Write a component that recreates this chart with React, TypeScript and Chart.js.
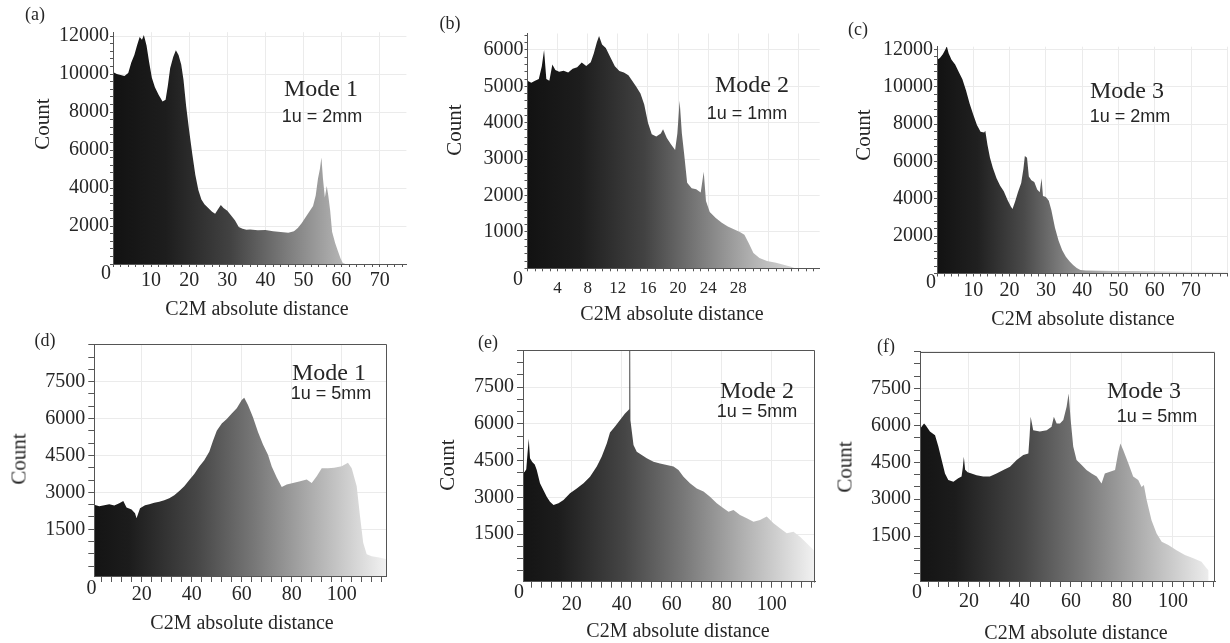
import React, { useEffect, useRef } from 'react';
import { Chart, registerables } from 'chart.js';

Chart.register(...registerables);

// ---------------- data ----------------
// (a) Mode 1, 1u = 2mm
const aDist = [0, 1, 2, 3, 4, 4.8, 5.6, 6.3, 7, 7.6, 8.1, 8.8, 9.5, 10.2, 11, 12, 13, 13.8, 14.4, 15, 15.8, 16.5, 17.2, 17.9, 18.5, 19.2, 20, 20.8, 21.6, 22.4, 23.2, 24, 25, 26, 26.8, 27.6, 28.3, 29, 30, 31, 32, 33, 34, 35, 36, 38, 40, 42, 44, 46, 47.5, 48.5, 49.5, 50.5, 51.5, 52.5, 53.2, 53.8, 54.3, 54.7, 55.1, 55.6, 56.1, 56.5, 57, 57.5, 58.3, 59, 59.7, 60.3, 61];
const aCount = [10100, 10000, 9950, 9900, 10050, 10600, 11000, 11500, 11950, 11800, 12050, 11500, 10600, 9800, 9300, 8900, 8550, 8650, 9400, 10300, 10900, 11250, 11000, 10500, 9700, 8300, 7000, 5800, 4700, 3900, 3400, 3150, 2950, 2750, 2650, 2900, 3100, 2950, 2800, 2550, 2300, 1950, 1850, 1800, 1820, 1780, 1790, 1720, 1680, 1650, 1720, 1900, 2150, 2450, 2750, 3050, 3600, 4500, 5000, 5600, 4500, 3500, 4100, 3600, 2800, 1700, 1100, 700, 300, 50, 0];
const aXLabels = [10, 20, 30, 40, 50, 60, 70];
const aYLabels = [2000, 4000, 6000, 8000, 10000, 12000];

// (b) Mode 2, 1u = 1mm
const bDist = [0, 0.5, 1, 1.5, 1.9, 2.2, 2.5, 2.9, 3.3, 3.7, 4.2, 4.8, 5.4, 6, 6.6, 7.2, 7.8, 8.4, 8.8, 9.2, 9.5, 9.9, 10.4, 11, 11.6, 12.2, 12.8, 13.4, 13.9, 14.4, 15, 15.5, 16, 16.5, 17.1, 17.7, 18, 18.5, 19, 19.6, 19.9, 20.2, 20.5, 20.8, 21.2, 21.8, 22.4, 23, 23.4, 23.7, 24.2, 25, 25.8, 26.6, 27.4, 28.2, 28.8, 29.4, 30, 30.8, 31.8, 33, 34, 35, 35.5];
const bCount = [5150, 5100, 5150, 5200, 5550, 6000, 5200, 5150, 5600, 5450, 5400, 5430, 5380, 5480, 5520, 5650, 5560, 5660, 5900, 6200, 6380, 6150, 6050, 5800, 5550, 5420, 5380, 5300, 5150, 5000, 4800, 4500, 4000, 3680, 3620, 3700, 3820, 3580, 3420, 3250, 3700, 4600, 3700, 3150, 2350, 2200, 2170, 2080, 2650, 1850, 1550, 1380, 1250, 1150, 1070, 1000, 920, 680, 420, 280, 200, 150, 100, 40, 0];
const bXLabels = [4, 8, 12, 16, 20, 24, 28];
const bYLabels = [1000, 2000, 3000, 4000, 5000, 6000];

// (c) Mode 3, 1u = 2mm
const cDist = [0, 0.8, 1.6, 2.3, 2.7, 3.2, 4, 5, 6, 7, 8, 9, 10, 11, 12, 13, 13.3, 13.9, 14.6, 15.4, 16.4, 17.4, 18.4, 19.4, 20.3, 20.8, 21.5, 22.3, 23.2, 23.8, 24.2, 24.8, 25.3, 26, 26.8, 27.6, 28.3, 28.8, 29.2, 30, 30.8, 31.5, 32.5, 33.5, 34.5, 35.5, 36.5, 37.5, 38.5, 39.5, 41, 45, 50, 55, 60, 65, 70, 75, 80];
const cCount = [11450, 11550, 11750, 12000, 12170, 11800, 11450, 11200, 10800, 10400, 9800, 9100, 8500, 7950, 7600, 7550, 7650, 6900, 6200, 5650, 5100, 4700, 4400, 3950, 3600, 3450, 3850, 4350, 4850, 5600, 6300, 6200, 5200, 5000, 4900, 4500, 4350, 5100, 4150, 4100, 3900, 3400, 2450, 1750, 1250, 900, 650, 450, 300, 190, 160, 150, 140, 130, 120, 110, 100, 100, 90];
const cXLabels = [10, 20, 30, 40, 50, 60, 70];
const cYLabels = [2000, 4000, 6000, 8000, 10000, 12000];

// (d) Mode 1, 1u = 5mm
const dDist = [1, 3, 5, 7, 9, 11, 12.6, 13.9, 15.9, 17.3, 17.9, 19.3, 21.3, 23, 25, 27, 29, 31, 33, 35, 37, 39, 41, 43, 45, 47, 48.5, 50, 52, 54, 56, 58, 60, 61, 62.5, 64.5, 66.5, 68.5, 70.5, 72, 74, 76, 78, 80.5, 83, 86, 88, 90, 92, 94.5, 97, 100, 102.5, 104, 106, 107.3, 108.6, 110, 112, 115, 118];
const dCount = [2500, 2440, 2480, 2520, 2470, 2560, 2650, 2380, 2300, 2150, 1950, 2350, 2480, 2520, 2580, 2620, 2680, 2760, 2880, 3050, 3250, 3500, 3750, 4050, 4300, 4650, 5100, 5500, 5800, 5980, 6200, 6420, 6750, 6850, 6550, 6050, 5450, 4950, 4530, 4050, 3600, 3220, 3320, 3380, 3440, 3520, 3380, 3650, 3980, 3980, 4000, 4060, 4200, 3980, 3250, 2050, 950, 480, 400, 350, 280];

// (e) Mode 2, 1u = 5mm
const eDist = [0.5, 1.2, 1.8, 2.3, 2.8, 3.3, 4.2, 5.2, 6, 7.3, 8.7, 10, 11.3, 12.7, 14.7, 16.7, 19.3, 22, 24.7, 27.3, 30, 32, 34, 35.3, 37.3, 39.3, 41.3, 42.7, 42.95, 43, 43.3, 43.35, 43.6, 44.7, 46, 48, 50, 52.7, 55.3, 58, 60.7, 62.7, 64.7, 67.3, 70, 72.7, 75.3, 78, 80.7, 82.7, 84.7, 87.3, 90, 92.7, 95.3, 98, 100.7, 103.3, 106, 108.7, 111.3, 114, 116.7, 117.3];
const eCount = [4000, 4050, 4150, 4800, 5400, 4600, 4450, 4350, 4120, 3580, 3300, 3030, 2830, 2690, 2760, 2900, 3170, 3370, 3580, 3850, 4260, 4670, 5200, 5650, 5900, 6160, 6430, 6570, 6600, 12000, 12000, 6300, 6150, 5140, 4870, 4730, 4600, 4460, 4390, 4330, 4260, 4120, 3850, 3580, 3370, 3240, 3030, 2760, 2560, 2420, 2490, 2290, 2150, 2010, 2080, 2220, 1950, 1740, 1540, 1600, 1400, 1130, 860, 800];

// (f) Mode 3, 1u = 5mm
const fDist = [0.8, 1.4, 2.4, 3.1, 4.7, 6.7, 8, 9.3, 10.6, 11.9, 13.9, 15.8, 17.1, 17.6, 18, 18.5, 19.5, 21, 23, 25.6, 28.2, 30.8, 33.5, 36.1, 38.7, 41.3, 43.3, 43.8, 44.2, 45.2, 47.8, 50.5, 52.4, 53.3, 54.4, 55.7, 57, 58.3, 59.1, 59.9, 60.9, 62.2, 64.2, 66.1, 68.1, 70.1, 72, 73.3, 75.3, 77.3, 78.6, 79.4, 80.5, 82.5, 84.4, 86.4, 87.7, 88.6, 89.7, 91.6, 93.6, 95.6, 98.2, 101.4, 104.7, 108, 111.2, 113.2, 114];
const fCount = [5850, 5950, 6080, 6000, 5750, 5600, 5140, 4600, 4050, 3780, 3710, 3850, 3920, 4300, 4730, 4200, 4100, 4050, 3980, 3920, 3920, 4050, 4190, 4320, 4600, 4800, 4860, 5600, 6350, 5810, 5750, 5810, 5950, 6350, 6080, 6080, 6220, 6760, 7300, 6220, 5140, 4600, 4390, 4190, 4050, 3920, 3640, 4050, 4120, 4190, 4930, 5270, 5000, 4460, 3920, 3780, 3500, 3580, 2970, 2150, 1610, 1270, 1140, 930, 730, 600, 460, 190, 100];

const bottomXLabels = [20, 40, 60, 80, 100];
const bottomYLabels = [1500, 3000, 4500, 6000, 7500];

const panelLetters = ['(a)', '(b)', '(c)', '(d)', '(e)', '(f)'];
const modeNames = ['Mode 1', 'Mode 2', 'Mode 3', 'Mode 1', 'Mode 2', 'Mode 3'];
const unitNotes = ['1u = 2mm', '1u = 1mm', '1u = 2mm', '1u = 5mm', '1u = 5mm', '1u = 5mm'];
const X_TITLE = 'C2M absolute distance';
const Y_TITLE = 'Count';

// ---------------- styling / layout ----------------
const SERIF = "'Liberation Serif', 'Times New Roman', serif";
const SANS = "'Liberation Sans', Arial, sans-serif";
const TEXT = '#262626';
const AXIS = '#555555';
const GRID = '#ebebeb';

type Stop = [number, string];
const stopsTop: Stop[] = [[0, '#121212'], [0.18, '#1d1d1d'], [0.4, '#424242'], [0.6, '#7e7e7e'], [0.78, '#b4b4b4'], [1, '#ececec']];
const stopsC: Stop[] = [[0, '#121212'], [0.14, '#202020'], [0.3, '#4a4a4a'], [0.45, '#858585'], [0.6, '#b8b8b8'], [1, '#f0f0f0']];
const stopsBottom: Stop[] = [[0, '#141414'], [0.12, '#1c1c1c'], [0.35, '#464646'], [0.55, '#787878'], [0.75, '#afafaf'], [1, '#f2f2f2']];

type Txt = { s: string; x: number; y: number; size: number; sans?: boolean; rot?: boolean };
type Cfg = {
  id: string;
  xs: number[]; ys: number[];
  xMin: number; xMax: number; yMin: number; yMax: number;
  xStep: number; yStep: number; xGrid: number; yGrid: number;
  xLabels: number[]; yLabels: number[];
  plot: { l: number; t: number; r: number; b: number };
  xFont: number; yFont: number; xTickLen: number; xPad: number; yTickLen: number; yPad: number;
  frame: boolean; stops: Stop[]; texts: Txt[];
};

function texts(i: number, letter: [number, number], count: [number, number], xt: [number, number], mode: [number, number], unit: [number, number], zero: [number, number]): Txt[] {
  return [
    { s: panelLetters[i], x: letter[0], y: letter[1], size: 18 },
    { s: Y_TITLE, x: count[0], y: count[1], size: 21, rot: true },
    { s: X_TITLE, x: xt[0], y: xt[1], size: 20 },
    { s: modeNames[i], x: mode[0], y: mode[1], size: 24 },
    { s: unitNotes[i], x: unit[0], y: unit[1], size: 18, sans: true },
    { s: '0', x: zero[0], y: zero[1], size: 20 },
  ];
}

const panels: Cfg[] = [
  {
    id: 'a', xs: aDist, ys: aCount, xMin: 0, xMax: 77, yMin: 0, yMax: 12200,
    xStep: 2, yStep: 400, xGrid: 10, yGrid: 2000, xLabels: aXLabels, yLabels: aYLabels,
    plot: { l: 113, t: 32.2, r: 406.4, b: 264 },
    xFont: 20, yFont: 20, xTickLen: 3, xPad: 2, yTickLen: 3, yPad: 1,
    frame: false, stops: stopsTop,
    texts: texts(0, [35, 14], [42, 124], [257, 308], [321, 88], [322, 116], [106, 272]),
  },
  {
    id: 'b', xs: bDist, ys: bCount, xMin: 0, xMax: 38.8, yMin: 0, yMax: 6450,
    xStep: 1, yStep: 200, xGrid: 4, yGrid: 1000, xLabels: bXLabels, yLabels: bYLabels,
    plot: { l: 527.5, t: 33.5, r: 819.7, b: 268.3 },
    xFont: 17, yFont: 20, xTickLen: 3, xPad: 7, yTickLen: 3, yPad: 1,
    frame: false, stops: stopsTop,
    texts: texts(1, [450, 23], [454, 130], [672, 313], [752, 84], [747, 113], [518, 278]),
  },
  {
    id: 'c', xs: cDist, ys: cCount, xMin: 0, xMax: 80, yMin: 0, yMax: 12150,
    xStep: 2, yStep: 400, xGrid: 10, yGrid: 2000, xLabels: cXLabels, yLabels: cYLabels,
    plot: { l: 937, t: 46.7, r: 1227.4, b: 273.5 },
    xFont: 20, yFont: 20, xTickLen: 3, xPad: 2, yTickLen: 3, yPad: 1,
    frame: false, stops: stopsC,
    texts: texts(2, [858, 29], [863, 135], [1083, 318], [1127, 90], [1130, 116], [931, 281]),
  },
  {
    id: 'd', xs: dDist, ys: dCount, xMin: 1, xMax: 118, yMin: -400, yMax: 9030,
    xStep: 4, yStep: 500, xGrid: 20, yGrid: 1500, xLabels: bottomXLabels, yLabels: bottomYLabels,
    plot: { l: 94.3, t: 344, r: 386.7, b: 576 },
    xFont: 20, yFont: 20, xTickLen: 6, xPad: 1, yTickLen: 6, yPad: 3,
    frame: true, stops: stopsBottom,
    texts: texts(3, [45, 340], [19, 459], [242, 622], [329, 372], [331, 393], [91.5, 587]),
  },
  {
    id: 'e', xs: eDist, ys: eCount, xMin: 0.5, xMax: 117.3, yMin: -437, yMax: 9020,
    xStep: 4, yStep: 500, xGrid: 20, yGrid: 1500, xLabels: bottomXLabels, yLabels: bottomYLabels,
    plot: { l: 523, t: 350, r: 815, b: 581.7 },
    xFont: 20, yFont: 20, xTickLen: 6, xPad: 5, yTickLen: 6, yPad: 3,
    frame: true, stops: stopsBottom,
    texts: texts(4, [488, 342], [447, 465], [678, 630], [757, 390], [757, 411], [519, 591]),
  },
  {
    id: 'f', xs: fDist, ys: fCount, xMin: 0.8, xMax: 116.5, yMin: -325, yMax: 9000,
    xStep: 4, yStep: 500, xGrid: 20, yGrid: 1500, xLabels: bottomXLabels, yLabels: bottomYLabels,
    plot: { l: 920, t: 351.7, r: 1215, b: 581 },
    xFont: 20, yFont: 20, xTickLen: 6, xPad: 3, yTickLen: 6, yPad: 3,
    frame: true, stops: stopsBottom,
    texts: texts(5, [886, 346], [845, 467], [1076, 632], [1144, 390], [1157, 416], [917, 591]),
  },
];

function ticksEvery(min: number, max: number, step: number): number[] {
  const out: number[] = [];
  for (let k = Math.ceil(min / step); k * step <= max + 1e-9; k++) out.push(k * step);
  return out;
}

const framePlugin = {
  id: 'frame',
  afterDraw(chart: any, _args: any, opts: any) {
    if (!opts || !opts.show) return;
    const { ctx, chartArea: a } = chart;
    const l = Math.round(a.left) + 0.5, t = Math.round(a.top) + 0.5;
    const r = Math.round(a.right) - 0.5, b = Math.round(a.bottom) + 0.5;
    ctx.save();
    ctx.strokeStyle = AXIS;
    ctx.lineWidth = 1;
    ctx.beginPath();
    ctx.moveTo(l, t);
    ctx.lineTo(r, t);
    ctx.lineTo(r, b);
    ctx.stroke();
    ctx.restore();
  },
};

function Panel({ cfg }: { cfg: Cfg }) {
  const ref = useRef<HTMLCanvasElement>(null);
  const L = 80, T = 18, R = 30, B = 45;
  const cl = Math.floor(cfg.plot.l - L);
  const ct = Math.floor(cfg.plot.t - T);
  const cr = Math.ceil(cfg.plot.r + R);
  const cb = Math.ceil(cfg.plot.b + B);
  const cw = cr - cl, ch = cb - ct;

  useEffect(() => {
    const canvas = ref.current;
    if (!canvas) return;
    const yW = cfg.plot.l - cl;
    const xH = cb - cfg.plot.b;
    const xTicks = ticksEvery(cfg.xMin, cfg.xMax, cfg.xStep);
    const yTicks = ticksEvery(cfg.yMin, cfg.yMax, cfg.yStep);
    const fillFn = (c: any) => {
      const chart = c.chart;
      const a = chart.chartArea;
      if (!a) return cfg.stops[0][1];
      const g = chart.ctx.createLinearGradient(a.left, 0, a.right, 0);
      cfg.stops.forEach(([o, col]) => g.addColorStop(o, col));
      return g;
    };
    const chart = new Chart(canvas, {
      type: 'line',
      data: {
        datasets: [{
          data: cfg.xs.map((x, i) => ({ x, y: cfg.ys[i] })),
          fill: 'start',
          backgroundColor: fillFn,
          borderWidth: 0,
          pointRadius: 0,
          tension: 0,
        }],
      },
      options: {
        animation: false,
        responsive: false,
        maintainAspectRatio: false,
        events: [],
        layout: { autoPadding: false, padding: { left: 0, top: cfg.plot.t - ct, right: cr - cfg.plot.r, bottom: 0 } },
        plugins: { legend: { display: false }, tooltip: { enabled: false }, frame: { show: cfg.frame } } as any,
        scales: {
          x: {
            type: 'linear', min: cfg.xMin, max: cfg.xMax,
            afterFit: (s: any) => { s.height = xH; },
            afterBuildTicks: (s: any) => { s.ticks = xTicks.map((v) => ({ value: v })); },
            ticks: {
              autoSkip: false, maxRotation: 0, minRotation: 0, padding: cfg.xPad, color: TEXT,
              font: { family: SERIF, size: cfg.xFont },
              callback: (v: any) => (cfg.xLabels.includes(Number(v)) ? String(v) : ''),
            },
            grid: {
              color: (c: any) => (c.tick && Math.abs(c.tick.value % cfg.xGrid) < 1e-9 && c.tick.value > cfg.xMin ? GRID : 'rgba(0,0,0,0)'),
              tickColor: AXIS, tickLength: cfg.xTickLen, lineWidth: 1,
            },
            border: { display: true, color: AXIS, width: 1, z: 1 },
          },
          y: {
            type: 'linear', min: cfg.yMin, max: cfg.yMax,
            afterFit: (s: any) => { s.width = yW; },
            afterBuildTicks: (s: any) => { s.ticks = yTicks.map((v) => ({ value: v })); },
            ticks: {
              autoSkip: false, padding: cfg.yPad, color: TEXT,
              font: { family: SERIF, size: cfg.yFont },
              callback: (v: any) => (cfg.yLabels.includes(Number(v)) ? String(v) : ''),
            },
            grid: {
              color: (c: any) => (c.tick && Math.abs(c.tick.value % cfg.yGrid) < 1e-9 && c.tick.value > 0 ? GRID : 'rgba(0,0,0,0)'),
              tickColor: AXIS, tickLength: cfg.yTickLen, lineWidth: 1,
            },
            border: { display: true, color: AXIS, width: 1, z: 1 },
          },
        },
      } as any,
      plugins: [framePlugin as any],
    });
    return () => chart.destroy();
  }, []);

  return (
    <canvas
      ref={ref}
      width={cw}
      height={ch}
      style={{ position: 'absolute', left: cl, top: ct, width: cw, height: ch }}
    />
  );
}

export default function App() {
  return (
    <div style={{ position: 'absolute', left: 0, top: 0, width: 1230, height: 643, overflow: 'hidden', background: '#ffffff' }}>
      {panels.map((p) => <Panel key={p.id} cfg={p} />)}
      {panels.flatMap((p) =>
        p.texts.map((t, i) => (
          <div
            key={p.id + '-' + i}
            style={{
              position: 'absolute',
              left: t.x,
              top: t.y,
              transform: 'translate(-50%, -50%)' + (t.rot ? ' rotate(-90deg)' : ''),
              fontFamily: t.sans ? SANS : SERIF,
              fontSize: t.size,
              lineHeight: 1,
              color: TEXT,
              whiteSpace: 'nowrap',
            }}
          >
            {t.s}
          </div>
        ))
      )}
    </div>
  );
}
